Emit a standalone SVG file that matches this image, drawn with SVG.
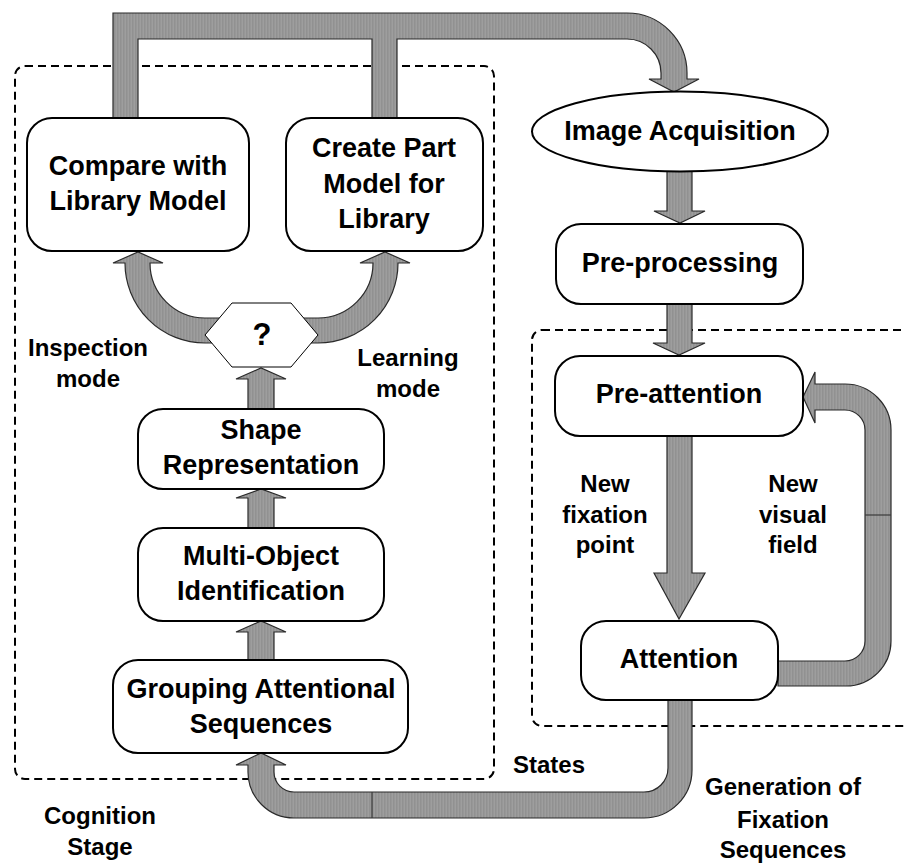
<svg xmlns="http://www.w3.org/2000/svg" width="904" height="863" viewBox="0 0 904 863">
<defs>
<pattern id="stripes" patternUnits="userSpaceOnUse" width="3" height="4">
<rect x="0" y="0" width="3" height="4" fill="#9e9e9e"/>
<rect x="0" y="0" width="1.5" height="4" fill="#919191"/>
</pattern>
<style>
.band{fill:url(#stripes);stroke:#2a2a2a;stroke-width:1.2;stroke-linejoin:miter}
.seam{stroke:#3a3a3a;stroke-width:1.2;fill:none}
.node{fill:#fff;stroke:#000;stroke-width:2}
.hex{fill:#fff;stroke:#000;stroke-width:1}
.dash{fill:none;stroke:#000;stroke-width:2;stroke-dasharray:8 5}
.t{font-family:"Liberation Sans",Arial,Helvetica,sans-serif;font-weight:bold;font-size:27px;fill:#000;text-anchor:middle}
.l{font-family:"Liberation Sans",Arial,Helvetica,sans-serif;font-weight:bold;font-size:24px;fill:#000;text-anchor:middle}
</style>
</defs>
<rect width="904" height="863" fill="#fff"/>

<g id="stage-boxes">
<rect class="dash" x="15" y="66" width="479" height="713" rx="10"/>
<rect class="dash" x="532" y="330" width="400" height="396" rx="10"/>
</g>

<g id="connectors">
<path class="band" d="M113,118 L113,13 L627,13 A60,60 0 0 1 687,73 L687,79 L699,79 L674,92 L649,79 L661,79 L661,73 A34,34 0 0 0 627,39 L397,39 L397,118 L372,118 L372,39 L138,39 L138,118 Z"/>
<path class="band" d="M667,168 L692,168 L692,211 L705,211 L680,223 L654,211 L667,211 Z"/>
<path class="band" d="M667,304 L692,304 L692,343 L705,343 L679,355 L653,343 L667,343 Z"/>
<path class="band" d="M667,436 L692,436 L692,573 L705,573 L679,619 L654,573 L667,573 Z"/>
<path class="band" d="M778,661 L845,661 A20,20 0 0 0 865,641 L865,430 A20,20 0 0 0 845,410 L815,410 L815,423 L803,397 L815,372 L815,384 L845,384 A46,46 0 0 1 891,430 L891,641 A45,45 0 0 1 846,686 L778,686 Z"/>
<line class="seam" x1="865" y1="515" x2="891" y2="515"/>
<path class="band" d="M668,700 L668,768 A24,24 0 0 1 644,792 L294,792 A20,20 0 0 1 274,772 L274,765 L286,765 L261,753 L236,765 L248,765 L248,772 A46,46 0 0 0 294,818 L644,818 A48,48 0 0 0 692,770 L692,700 Z"/>
<line class="seam" x1="372" y1="792" x2="372" y2="818"/>
<path class="band" d="M248,660 L248,632 L236,632 L261,621 L286,632 L274,632 L274,660 Z"/>
<path class="band" d="M248,528 L248,498 L236,498 L261,489 L286,498 L274,498 L274,528 Z"/>
<path class="band" d="M248,409 L248,379 L236,379 L261,368 L286,379 L274,379 L274,409 Z"/>
<path class="band" d="M261,343 L205,343 A80,80 0 0 1 125,263 L113,263 L138,252 L163,263 L150,263 A55,55 0 0 0 205,318 L261,318 Z"/>
<path class="band" d="M262,343 L318,343 A80,80 0 0 0 398,263 L410,263 L385,252 L360,263 L373,263 A55,55 0 0 1 318,318 L262,318 Z"/>
</g>

<g id="compare">
<rect class="node" x="27" y="118" width="222" height="133" rx="25"/>
<text class="t" x="138" y="175">Compare with</text>
<text class="t" x="138" y="210">Library Model</text>
</g>
<g id="create-part">
<rect class="node" x="286" y="118" width="197" height="133" rx="25"/>
<text class="t" x="384" y="157">Create Part</text>
<text class="t" x="384" y="193">Model for</text>
<text class="t" x="384" y="228">Library</text>
</g>
<g id="image-acquisition">
<ellipse class="node" cx="680" cy="131.5" rx="148" ry="40"/>
<text class="t" x="680" y="140">Image Acquisition</text>
</g>
<g id="pre-processing">
<rect class="node" x="556" y="224" width="247" height="80" rx="25"/>
<text class="t" x="680" y="272">Pre-processing</text>
</g>
<g id="pre-attention">
<rect class="node" x="555" y="356" width="248" height="80" rx="25"/>
<text class="t" x="679" y="403">Pre-attention</text>
</g>
<g id="attention">
<rect class="node" x="581" y="621" width="197" height="79" rx="25"/>
<text class="t" x="679" y="668">Attention</text>
</g>
<g id="decision">
<polygon class="hex" points="205,335 232,303 291,303 318,335 291,367 232,367"/>
<text class="t" x="262" y="345" style="font-size:31px">?</text>
</g>
<g id="shape-representation">
<rect class="node" x="138" y="409" width="246" height="80" rx="25"/>
<text class="t" x="261" y="439">Shape</text>
<text class="t" x="261" y="474">Representation</text>
</g>
<g id="multi-object">
<rect class="node" x="138" y="528" width="246" height="93" rx="25"/>
<text class="t" x="261" y="565">Multi-Object</text>
<text class="t" x="261" y="600">Identification</text>
</g>
<g id="grouping">
<rect class="node" x="113" y="660" width="295" height="93" rx="25"/>
<text class="t" x="261" y="698">Grouping Attentional</text>
<text class="t" x="261" y="733">Sequences</text>
</g>

<g id="labels">
<text class="l" x="88" y="356">Inspection</text>
<text class="l" x="88" y="387">mode</text>
<text class="l" x="408" y="366">Learning</text>
<text class="l" x="408" y="397">mode</text>
<text class="l" x="605" y="492">New</text>
<text class="l" x="605" y="523">fixation</text>
<text class="l" x="605" y="553">point</text>
<text class="l" x="793" y="492">New</text>
<text class="l" x="793" y="523">visual</text>
<text class="l" x="793" y="553">field</text>
<text class="l" x="549" y="773">States</text>
<text class="l" x="783" y="795">Generation of</text>
<text class="l" x="783" y="828">Fixation</text>
<text class="l" x="783" y="858">Sequences</text>
<text class="l" x="100" y="824">Cognition</text>
<text class="l" x="100" y="855">Stage</text>
</g>
</svg>
